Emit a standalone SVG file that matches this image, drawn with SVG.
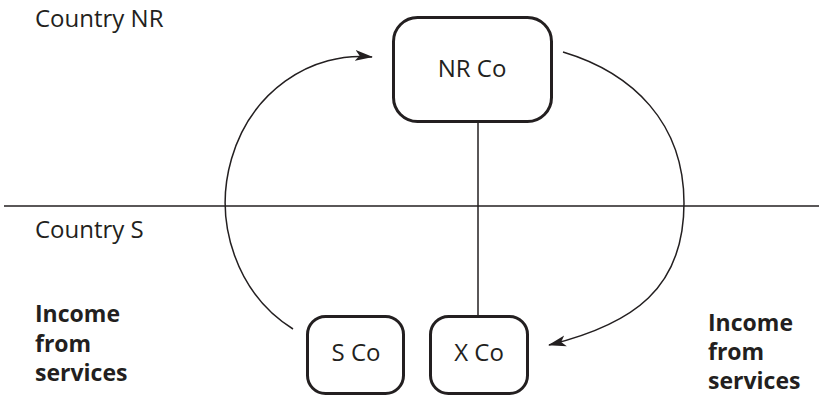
<svg xmlns="http://www.w3.org/2000/svg" width="819" height="396" viewBox="0 0 819 396">
<style>
  .box { fill: #fff; stroke: #231f20; stroke-width: 3; }
  .lbl { font-family: "Open Sans", "Noto Sans", sans-serif; font-size: 24px; fill: #231f20; }
  .node { text-anchor: middle; }
  .bold { font-weight: bold; font-size: 23px; }
  .conn { fill: none; stroke: #231f20; stroke-width: 1.5; }
</style>
<defs>
  <marker id="arrow" viewBox="0 0 18 12" refX="17" refY="6" markerWidth="18" markerHeight="12" markerUnits="userSpaceOnUse" orient="auto">
    <path d="M0,0.5 L18,6 L0,11.5 L4.5,6 Z" fill="#231f20"/>
  </marker>
</defs>
<rect width="819" height="396" fill="#fff"/>
<g id="labels">
  <text class="lbl" x="35" y="27">Country NR</text>
  <text class="lbl" x="35" y="238">Country S</text>
  <text class="lbl bold" x="35" y="322">Income</text>
  <text class="lbl bold" x="35" y="352">from</text>
  <text class="lbl bold" x="35" y="381">services</text>
  <text class="lbl bold" x="708" y="331">Income</text>
  <text class="lbl bold" x="708" y="360">from</text>
  <text class="lbl bold" x="708" y="389">services</text>
</g>
<g id="connectors">
  <line class="conn" x1="4" y1="206" x2="819" y2="206"/>
  <line class="conn" x1="478" y1="122" x2="478" y2="316"/>
  <path class="conn" d="M293,329 A135,146 0 0 1 372,57" marker-end="url(#arrow)"/>
  <path class="conn" d="M563,52 C633,73 684,123 684,203 C684,288 634,324 549,345" marker-end="url(#arrow)"/>
</g>
<g id="nr-co">
  <rect class="box" x="393.5" y="17.5" width="158" height="104" rx="24"/>
  <text class="lbl node" x="472" y="77">NR Co</text>
</g>
<g id="s-co">
  <rect class="box" x="307.5" y="316.5" width="96" height="77" rx="18"/>
  <text class="lbl node" x="356" y="361">S Co</text>
</g>
<g id="x-co">
  <rect class="box" x="430.5" y="316.5" width="97" height="77" rx="18"/>
  <text class="lbl node" x="479" y="361">X Co</text>
</g>
</svg>
